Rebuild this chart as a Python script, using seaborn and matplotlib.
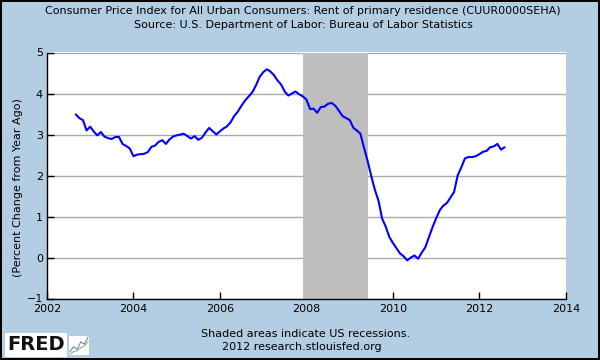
import pandas as pd
import matplotlib
matplotlib.use('Agg')
import matplotlib.pyplot as plt
import matplotlib.dates as mdates
import seaborn as sns

# monthly % change from year ago, Sep 2002 .. Aug 2012
start_month = '2002-09-01'
rent_yoy = [
    3.49, 3.40, 3.35, 3.10,
    3.19, 3.07, 2.98, 3.06, 2.95, 2.91, 2.89, 2.94, 2.94, 2.77, 2.72, 2.66,
    2.47, 2.51, 2.52, 2.53, 2.57, 2.70, 2.73, 2.82, 2.86, 2.77, 2.88, 2.95,
    2.98, 3.00, 3.02, 2.96, 2.90, 2.96, 2.87, 2.92, 3.05, 3.16, 3.08, 3.00,
    3.08, 3.15, 3.20, 3.30, 3.45, 3.56, 3.70, 3.83, 3.93, 4.03, 4.20, 4.40,
    4.52, 4.59, 4.54, 4.45, 4.32, 4.22, 4.05, 3.95, 4.00, 4.05, 3.98, 3.93,
    3.85, 3.62, 3.63, 3.53, 3.67, 3.68, 3.75, 3.77, 3.70, 3.58, 3.45, 3.40,
    3.35, 3.16, 3.10, 3.02, 2.68, 2.35, 1.99, 1.65, 1.38, 0.95, 0.75, 0.50,
    0.35, 0.22, 0.10, 0.03, -0.07, 0.00, 0.05, -0.03, 0.12, 0.25, 0.50, 0.74,
    0.96, 1.16, 1.26, 1.33, 1.46, 1.60, 2.00, 2.20, 2.42, 2.45, 2.45, 2.47,
    2.52, 2.58, 2.60, 2.69, 2.71, 2.77, 2.63, 2.69,
]
recession_start = '2007-12-01'
recession_end = '2009-06-01'
x_years = [2002, 2004, 2006, 2008, 2010, 2012, 2014]
y_ticks = [-1, 0, 1, 2, 3, 4, 5]

title_lines = ['Consumer Price Index for All Urban Consumers: Rent of primary residence (CUUR0000SEHA)',
               'Source: U.S. Department of Labor: Bureau of Labor Statistics']
footer_lines = ['Shaded areas indicate US recessions.', '2012 research.stlouisfed.org']

df = pd.DataFrame({'date': pd.date_range(start_month, periods=len(rent_yoy), freq='MS'),
                   'value': rent_yoy})

bg = '#B3CDE3'
sns.set_style('white')
plt.rcParams['font.family'] = ['DejaVu Sans']
plt.rcParams['text.color'] = 'black'
plt.rcParams['axes.labelcolor'] = 'black'
plt.rcParams['xtick.color'] = 'black'
plt.rcParams['ytick.color'] = 'black'

fig = plt.figure(figsize=(6, 3.6), dpi=100, facecolor=bg, edgecolor='black', linewidth=1.5)
ax = fig.add_axes([47 / 600, 1 - 298.5 / 360, (566 - 47) / 600, (298.5 - 52.5) / 360])
ax.set_facecolor('white')

ax.axvspan(pd.Timestamp(recession_start), pd.Timestamp(recession_end), color='#BEBEBE', lw=0, zorder=1)
sns.lineplot(data=df, x='date', y='value', ax=ax, color='#0000FF', linewidth=1.5, zorder=3)

ax.set_xlim(pd.Timestamp('2002-01-01'), pd.Timestamp('2014-01-01'))
ax.set_ylim(-1, 5)
ax.set_xticks([pd.Timestamp(f'{y}-01-01') for y in x_years])
ax.xaxis.set_major_formatter(mdates.DateFormatter('%Y'))
ax.set_yticks(y_ticks)
ax.set_axisbelow(True)
ax.yaxis.grid(True, color='#AAAAAA', linewidth=1)
ax.xaxis.grid(False)

for side in ['top', 'right']:
    ax.spines[side].set_visible(False)
for side in ['left', 'bottom']:
    ax.spines[side].set_color('black')
    ax.spines[side].set_linewidth(1)
ax.tick_params(axis='both', direction='in', length=5, width=1, color='black', labelcolor='black',
               labelsize=8, pad=3, bottom=True, left=True)
ax.tick_params(axis='x', pad=4)
ax.set_xlabel('')
ax.set_ylabel('(Percent Change from Year Ago)', fontsize=8, color='black')
ax.yaxis.set_label_coords(-0.047, 0.45)

fig.text(0.505, 1 - 11.5 / 360, title_lines[0], ha='center', va='center', fontsize=8)
fig.text(0.505, 1 - 25 / 360, title_lines[1], ha='center', va='center', fontsize=8)
fig.text(0.51, 1 - 334 / 360, footer_lines[0], ha='center', va='center', fontsize=8)
fig.text(0.503, 1 - 347 / 360, footer_lines[1], ha='center', va='center', fontsize=8)

# FRED logo
fig.text(7 / 600, 1 - 345 / 360, 'FRED', ha='left', va='center', fontsize=14, fontweight='bold',
         color='#111111', bbox=dict(facecolor='white', edgecolor='none', pad=1.5))
icon_x = [0, 1, 2, 3, 4, 5]
icon_blue = [1, 2, 1.5, 3, 2.5, 4]
icon_green = [0.5, 1, 1.2, 1.8, 2.2, 3]
icon = fig.add_axes([69 / 600, 1 - 355 / 360, 20 / 600, 19 / 360])
icon.set_facecolor('white')
icon.plot(icon_x, icon_blue, color='#6688CC', lw=0.8)
icon.plot(icon_x, icon_green, color='#88BB66', lw=0.8)
icon.set_xticks([])
icon.set_yticks([])
for s in icon.spines.values():
    s.set_visible(False)

fig.savefig('out.png', dpi=100, facecolor=fig.get_facecolor(), edgecolor=fig.get_edgecolor())
